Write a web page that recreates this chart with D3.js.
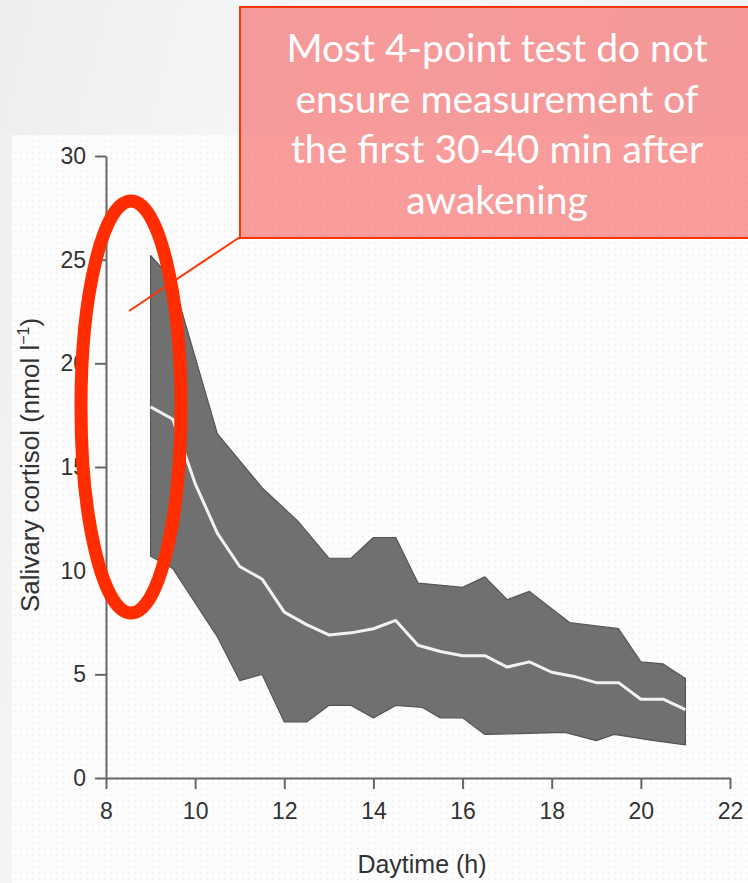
<!DOCTYPE html>
<html>
<head>
<meta charset="utf-8">
<script src="https://cdn.jsdelivr.net/npm/d3@7"></script>
<style>
  body { margin: 0; background: #f0f1f3; }
  svg { display: block; }
</style>
</head>
<body>
<script>
// values (daytime in h, cortisol in nmol/l)
var upperHours = [9, 9.5, 10.5, 11.5, 12.3, 13, 13.5, 14, 14.5, 15, 16, 16.5, 17, 17.5, 18.4, 19.5, 20, 20.5, 21];
var upperVals  = [25.2, 24.0, 16.6, 14.0, 12.4, 10.6, 10.6, 11.6, 11.6, 9.4, 9.2, 9.7, 8.6, 9.0, 7.5, 7.2, 5.6, 5.5, 4.8];
var lowerHours = [9, 9.5, 10.5, 11, 11.5, 12, 12.5, 13, 13.5, 14, 14.5, 15.1, 15.5, 16, 16.5, 18.3, 19, 19.4, 20.3, 21];
var lowerVals  = [10.7, 10.1, 6.8, 4.7, 5.0, 2.7, 2.7, 3.5, 3.5, 2.9, 3.5, 3.4, 2.9, 2.9, 2.1, 2.2, 1.8, 2.1, 1.8, 1.6];
var meanHours  = [9, 9.5, 10, 10.5, 11, 11.5, 12, 12.5, 13, 13.5, 14, 14.5, 15, 15.5, 16, 16.5, 17, 17.5, 18, 18.5, 19, 19.5, 20, 20.5, 21];
var meanVals   = [17.9, 17.3, 14.2, 11.8, 10.2, 9.6, 8.0, 7.4, 6.9, 7.0, 7.2, 7.6, 6.4, 6.1, 5.9, 5.9, 5.35, 5.6, 5.1, 4.9, 4.6, 4.6, 3.8, 3.8, 3.3];
var xTicks = [8, 10, 12, 14, 16, 18, 20, 22];
var yTicks = [0, 5, 10, 15, 20, 25, 30];
var calloutLines = ["Most 4-point test do not", "ensure measurement of", "the first 30-40 min after", "awakening"];

var W = 748, H = 883;

var x = d3.scaleLinear()
  .domain([8, 22])
  .range([106, 730]);

var y = d3.scaleLinear()
  .domain([0, 30])
  .range([778, 156]);

var svg = d3.select("body").append("svg")
  .attr("width", W)
  .attr("height", H);

var defs = svg.append("defs");
var bg = defs.append("linearGradient").attr("id", "bg")
  .attr("x1", 0).attr("y1", 0).attr("x2", 1).attr("y2", 0.3);
bg.append("stop").attr("offset", "0%").attr("stop-color", "#eceef0");
bg.append("stop").attr("offset", "45%").attr("stop-color", "#f7f8f9");
bg.append("stop").attr("offset", "100%").attr("stop-color", "#eef0f2");

var dots = defs.append("pattern").attr("id", "dots")
  .attr("width", 6).attr("height", 6)
  .attr("patternUnits", "userSpaceOnUse");
dots.append("rect").attr("width", 6).attr("height", 6).attr("fill", "#fdfdfd");
dots.append("circle").attr("cx", 3).attr("cy", 3).attr("r", 0.7).attr("fill", "#e6e6e6");

svg.append("rect").attr("width", W).attr("height", H).attr("fill", "url(#bg)");
// the pasted figure
svg.append("rect")
  .attr("x", 12).attr("y", 135)
  .attr("width", W - 12).attr("height", H - 135)
  .attr("fill", "url(#dots)");

// band (min-max range)
var bandPts = upperHours.map(function(h, i) { return [h, upperVals[i]]; })
  .concat(lowerHours.map(function(h, i) { return [h, lowerVals[i]]; }).reverse());

var line = d3.line()
  .x(function(d) { return x(d[0]); })
  .y(function(d) { return y(d[1]); });

svg.append("path")
  .datum(bandPts)
  .attr("d", function(d) { return line(d) + "Z"; })
  .attr("fill", "#707070")
  .attr("stroke", "#555")
  .attr("stroke-width", 1.2)
  .attr("stroke-linejoin", "round");

svg.append("path")
  .datum(meanHours.map(function(h, i) { return [h, meanVals[i]]; }))
  .attr("d", line)
  .attr("fill", "none")
  .attr("stroke", "#f2f2f2")
  .attr("stroke-width", 3)
  .attr("stroke-linejoin", "round");

// axes
var xAxis = d3.axisBottom(x).tickValues(xTicks).tickSize(11).tickSizeOuter(0).tickPadding(14);
var yAxis = d3.axisLeft(y).tickValues(yTicks).tickSize(11).tickSizeOuter(0).tickPadding(9);

var gx = svg.append("g")
  .attr("transform", "translate(0," + y(0) + ")")
  .call(xAxis);
var gy = svg.append("g")
  .attr("transform", "translate(" + x(8) + ",0)")
  .call(yAxis);

[gx, gy].forEach(function(g) {
  g.selectAll("path, line").attr("stroke", "#666").attr("stroke-width", 2);
  g.selectAll("text")
    .attr("fill", "#333")
    .style("font-family", "'Liberation Sans', Arial, sans-serif")
    .style("font-size", "23px");
});

svg.append("text")
  .attr("x", 422).attr("y", 873)
  .attr("text-anchor", "middle")
  .attr("fill", "#333")
  .style("font-family", "'Liberation Sans', Arial, sans-serif")
  .style("font-size", "25px")
  .text("Daytime (h)");

var yl = svg.append("text")
  .attr("transform", "translate(39,465) rotate(-90)")
  .attr("text-anchor", "middle")
  .attr("fill", "#333")
  .style("font-family", "'Liberation Sans', Arial, sans-serif")
  .style("font-size", "26px");
yl.append("tspan").text("Salivary cortisol (nmol l");
yl.append("tspan").attr("dy", -10).style("font-size", "16px").text("\u22121");
yl.append("tspan").attr("dy", 10).text(")");

// annotation: red ellipse, leader line, callout box
svg.append("ellipse")
  .attr("cx", 131).attr("cy", 407)
  .attr("rx", 50).attr("ry", 206)
  .attr("fill", "none")
  .attr("stroke", "#ff2d00")
  .attr("stroke-width", 13);

svg.append("line")
  .attr("x1", 129).attr("y1", 311)
  .attr("x2", 240).attr("y2", 237)
  .attr("stroke", "#ff3300")
  .attr("stroke-width", 2);

svg.append("rect")
  .attr("x", 240).attr("y", 7)
  .attr("width", 520).attr("height", 231)
  .attr("fill", "rgb(245,118,118)")
  .attr("fill-opacity", 0.72)
  .attr("stroke", "#ff3300")
  .attr("stroke-width", 2);

svg.append("g").selectAll("text")
  .data(calloutLines)
  .join("text")
  .attr("x", 497)
  .attr("y", function(d, i) { return 62 + i * 50.5; })
  .attr("text-anchor", "middle")
  .attr("fill", "#fff")
  .style("font-family", "Lato, 'Open Sans', sans-serif")
  .style("font-size", "39px")
  .text(function(d) { return d; });
</script>
</body>
</html>
